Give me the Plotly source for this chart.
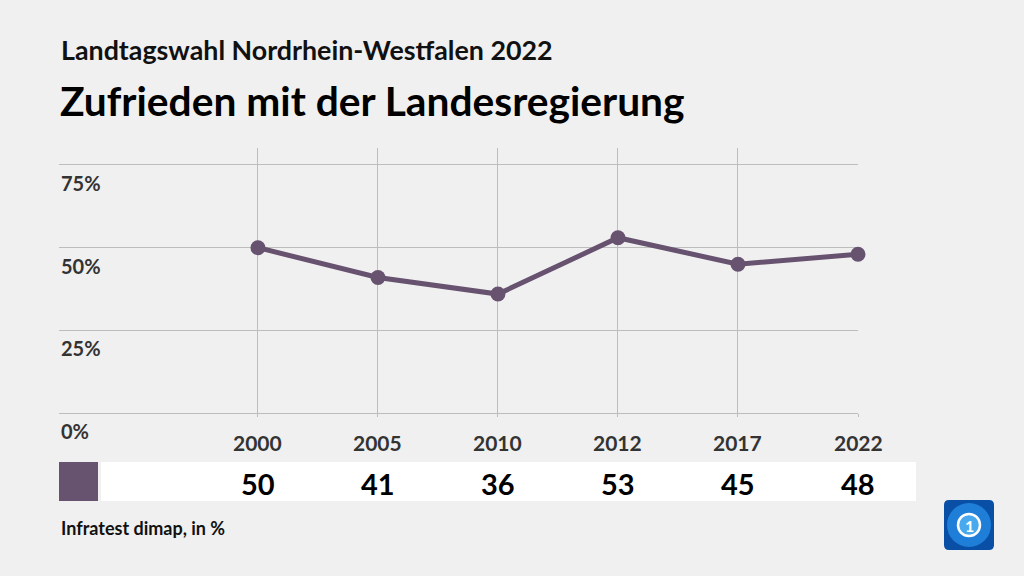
import plotly.graph_objects as go

years = ["2000", "2005", "2010", "2012", "2017", "2022"]
values = [50, 41, 36, 53, 45, 48]
y_ticks = [0, 25, 50, 75]
y_tick_labels = ["0%", "25%", "50%", "75%"]

W, H = 1024, 576
LINE = "#67526f"
GRID = "#bdbdbd"
FONT = "Lato"

def px(x):
    return x / W

def py(y):
    return 1 - y / H

x_idx = list(range(len(years)))

fig = go.Figure()
fig.add_trace(go.Scatter(
    x=x_idx, y=values, mode="lines+markers",
    line=dict(color=LINE, width=5),
    marker=dict(color=LINE, size=15),
    hoverinfo="skip", showlegend=False, cliponaxis=False,
))

annotations = []
# y tick labels (below gridlines, left aligned)
for v, t in zip(y_ticks, y_tick_labels):
    annotations.append(dict(
        x=px(59), xref="paper", y=v, yref="y", yshift=-18,
        text="<b>" + t + "</b>", showarrow=False, xanchor="left", yanchor="middle",
        font=dict(family=FONT, size=20, color="#333333"),
    ))
# x category labels
for i, yr in zip(x_idx, years):
    annotations.append(dict(
        x=i, xref="x", y=0, yref="y", yshift=-29,
        text="<b>" + yr + "</b>", showarrow=False, xanchor="center", yanchor="middle",
        font=dict(family=FONT, size=21, color="#333333"),
    ))
# values row
for i, v in zip(x_idx, values):
    annotations.append(dict(
        x=i, xref="x", y=py(483), yref="paper",
        text="<b>" + str(v) + "</b>", showarrow=False, xanchor="center", yanchor="middle",
        font=dict(family=FONT, size=29, color="#000000"),
    ))
# titles
annotations.append(dict(
    x=px(59), y=py(50), xref="paper", yref="paper", xanchor="left", yanchor="middle",
    text="<b>Landtagswahl Nordrhein-Westfalen 2022</b>", showarrow=False,
    font=dict(family=FONT, size=26.8, color="#111111"),
))
annotations.append(dict(
    x=px(58), y=py(100), xref="paper", yref="paper", xanchor="left", yanchor="middle",
    text="<b>Zufrieden mit der Landesregierung</b>", showarrow=False,
    font=dict(family=FONT, size=40.7, color="#000000"),
))
annotations.append(dict(
    x=px(59), y=py(528), xref="paper", yref="paper", xanchor="left", yanchor="middle",
    text="<b>Infratest dimap, in %</b>", showarrow=False,
    font=dict(family=FONT, size=18, color="#111111"),
))
# logo "1"
annotations.append(dict(
    x=px(969), y=py(525), xref="paper", yref="paper", xanchor="center", yanchor="middle",
    text="<b>1</b>", showarrow=False,
    font=dict(family=FONT, size=16, color="#ffffff"),
))

shapes = [
    # white value strip
    dict(type="rect", xref="paper", yref="paper", x0=px(101), x1=px(916), y0=py(501), y1=py(462),
         fillcolor="#ffffff", line=dict(width=0), layer="below"),
    # color square
    dict(type="rect", xref="paper", yref="paper", x0=px(59), x1=px(98), y0=py(501), y1=py(462),
         fillcolor=LINE, line=dict(width=0), layer="below"),
]
# logo rounded square
x0, x1, y0, y1, r = 944, 994, 500, 550, 5
path = (f"M {px(x0+r)},{py(y0)} L {px(x1-r)},{py(y0)} Q {px(x1)},{py(y0)} {px(x1)},{py(y0+r)} "
        f"L {px(x1)},{py(y1-r)} Q {px(x1)},{py(y1)} {px(x1-r)},{py(y1)} "
        f"L {px(x0+r)},{py(y1)} Q {px(x0)},{py(y1)} {px(x0)},{py(y1-r)} "
        f"L {px(x0)},{py(y0+r)} Q {px(x0)},{py(y0)} {px(x0+r)},{py(y0)} Z")
shapes.append(dict(type="path", xref="paper", yref="paper", path=path,
                   fillcolor="#0a4fa6", line=dict(width=0)))
shapes.append(dict(type="circle", xref="paper", yref="paper",
                   x0=px(947), x1=px(991), y0=py(547), y1=py(503),
                   fillcolor="#1f7fd8", line=dict(width=0)))
shapes.append(dict(type="circle", xref="paper", yref="paper",
                   x0=px(958), x1=px(980), y0=py(536), y1=py(514),
                   fillcolor="#4aa8ee", line=dict(color="#ffffff", width=2.5)))

fig.update_layout(
    width=W, height=H,
    margin=dict(l=0, r=0, t=0, b=0),
    paper_bgcolor="#f0f0f0", plot_bgcolor="#f0f0f0",
    xaxis=dict(domain=[px(59), px(858)], range=[-1.658, 5], tickvals=x_idx,
               showticklabels=False, showgrid=True, gridcolor=GRID, gridwidth=1,
               ticks="outside", ticklen=3, tickcolor=GRID, tickwidth=1,
               zeroline=False, showline=False, fixedrange=True),
    yaxis=dict(domain=[py(413.3), py(148.3)], range=[0, 80], tickvals=y_ticks,
               showticklabels=False, showgrid=True, gridcolor=GRID, gridwidth=1,
               zeroline=True, zerolinecolor=GRID, zerolinewidth=1,
               showline=False, fixedrange=True),
    annotations=annotations, shapes=shapes,
    showlegend=False,
)

fig.write_html("out.html", config={"displayModeBar": False},
               post_script="document.body.style.margin='0';")
